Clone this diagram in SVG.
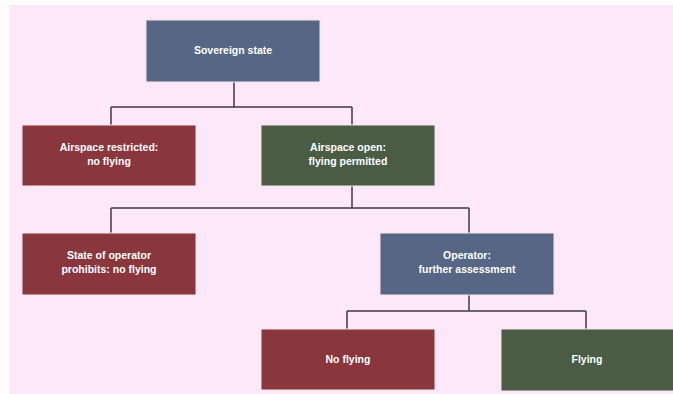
<svg xmlns="http://www.w3.org/2000/svg" width="673" height="394" viewBox="0 0 673 394">
<style>
.box{stroke:#f4e4ea;stroke-width:1}
.blue{fill:#566684}
.red{fill:#8a363d}
.green{fill:#4a5d44}
.t{font-family:"Liberation Sans",Arial,sans-serif;font-size:10.5px;font-weight:bold;fill:#ffffff;text-anchor:middle}
.c{fill:none;stroke:#3d3a40;stroke-width:1.5}
</style>
<rect x="0" y="0" width="673" height="394" fill="#fffcfd"/>
<rect x="9" y="5" width="664" height="389" fill="#fce8f9"/>
<g id="connectors">
<path class="c" d="M234 81 V107 M111 107 H352 M111 107 V125 M352 107 V125"/>
<path class="c" d="M352 186 V208 M111 208 H469 M111 208 V233 M469 208 V233"/>
<path class="c" d="M469 295 V311 M347 311 H586 M347 311 V329 M586 311 V329"/>
</g>
<g id="sovereign"><rect class="box blue" x="146" y="20" width="174" height="62"/><text class="t" x="233" y="54">Sovereign state</text></g>
<g id="restricted"><rect class="box red" x="22" y="125" width="174" height="61"/><text class="t" x="109" y="151">Airspace restricted:</text><text class="t" x="109" y="165">no flying</text></g>
<g id="open"><rect class="box green" x="261" y="125" width="174" height="61"/><text class="t" x="348" y="151">Airspace open:</text><text class="t" x="348" y="165">flying permitted</text></g>
<g id="state-operator"><rect class="box red" x="22" y="233" width="174" height="62"/><text class="t" x="109" y="259">State of operator</text><text class="t" x="109" y="273">prohibits: no flying</text></g>
<g id="operator"><rect class="box blue" x="380" y="233" width="174" height="62"/><text class="t" x="467" y="259">Operator:</text><text class="t" x="467" y="273">further assessment</text></g>
<g id="no-flying"><rect class="box red" x="261" y="329" width="174" height="61"/><text class="t" x="348" y="363">No flying</text></g>
<g id="flying"><rect class="box green" x="501" y="329" width="176" height="62"/><text class="t" x="587" y="363">Flying</text></g>
</svg>
